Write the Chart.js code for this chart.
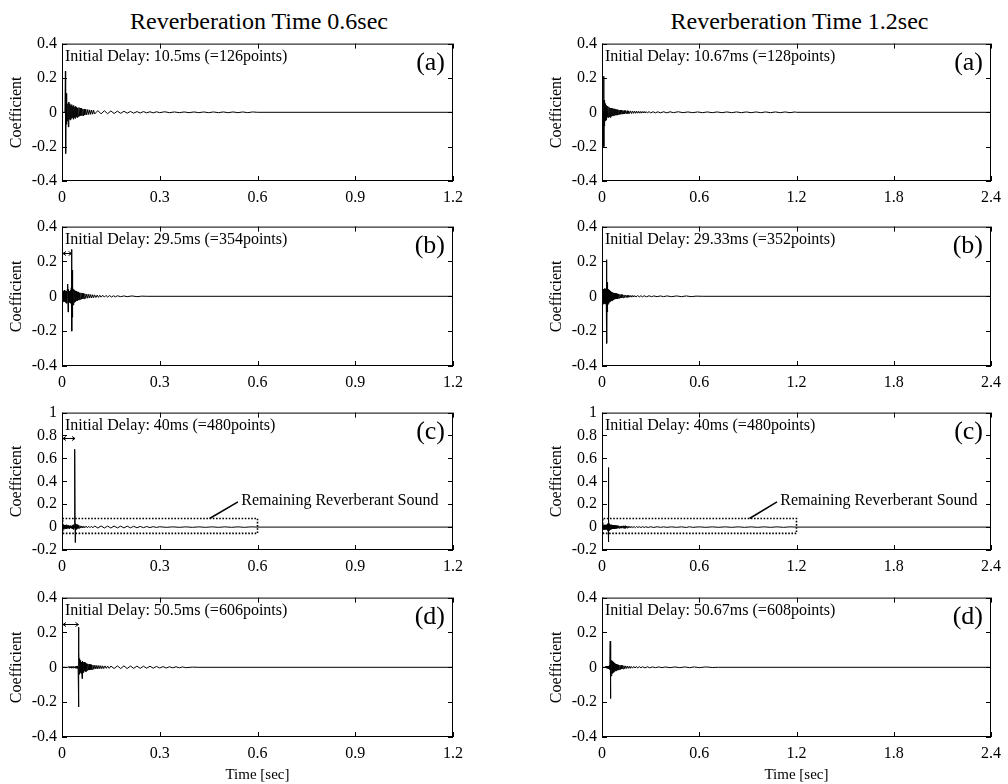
<!DOCTYPE html>
<html>
<head>
<meta charset="utf-8">
<script src="https://cdn.jsdelivr.net/npm/chart.js@4.4.0/dist/chart.umd.min.js"></script>
<style>
  body { margin: 0; background: #fff; }
  #page { position: relative; width: 1008px; height: 784px; font-family: 'Liberation Serif', 'Times New Roman', serif; }
  .col-title { position: absolute; top: 9px; font-size: 24px; line-height: 24px; text-align: center; color: #000; }
  canvas { position: absolute; }
</style>
</head>
<body>
<div id="page">
  <div class="col-title" style="left:62px;width:394px">Reverberation Time 0.6sec</div>
  <div class="col-title" style="left:602px;width:395px">Reverberation Time 1.2sec</div>
</div>
<script>
const FONT = "'Liberation Serif', 'Times New Roman', serif";

// axis ticks
const xTicks06 = [0, 0.3, 0.6, 0.9, 1.2];
const xLabels06 = ['0', '0.3', '0.6', '0.9', '1.2'];
const xTicks12 = [0, 0.6, 1.2, 1.8, 2.4];
const xLabels12 = ['0', '0.6', '1.2', '1.8', '2.4'];
const yTicksSmall = [-0.4, -0.2, 0, 0.2, 0.4];
const yLabelsSmall = ['-0.4', '-0.2', '0', '0.2', '0.4'];
const yTicksBig = [-0.2, 0, 0.2, 0.4, 0.6, 0.8, 1];
const yLabelsBig = ['-0.2', '0', '0.2', '0.4', '0.6', '0.8', '1'];

// panel texts
const panelLetters = ['(a)', '(b)', '(c)', '(d)'];
const delayText06 = [
    'Initial Delay: 10.5ms (=126points)',
    'Initial Delay: 29.5ms (=354points)',
    'Initial Delay: 40ms (=480points)',
    'Initial Delay: 50.5ms (=606points)'
];
const delayText12 = [
    'Initial Delay: 10.67ms (=128points)',
    'Initial Delay: 29.33ms (=352points)',
    'Initial Delay: 40ms (=480points)',
    'Initial Delay: 50.67ms (=608points)'
];
// delay arrows (left column only)
const arrowDelay06 = [null, 0.0295, 0.040, 0.0505];
const arrowLevel06 = [null, 0.25, 0.78, 0.25];

// "Remaining Reverberant Sound" box and pointer, panel (c)
const boxT06 = [0.002, 0.6, 0.6, 0.002, 0.002];
const boxT12 = [0.004, 1.2, 1.2, 0.004, 0.004];
const boxV = [-0.055, -0.055, 0.075, 0.075, -0.055];
const pointerT06 = [0.453, 0.54];
const pointerT12 = [0.91, 1.08];
const pointerV = [0.075, 0.22];
const remainText = 'Remaining Reverberant Sound';
const remainAt06 = [0.55, 0.23];
const remainAt12 = [1.10, 0.23];

// impulse responses [time sec, coefficient]
const rt06a = [
    [0, 0], [0.009, 0], [0.0105, 0.24], [0.0112, -0.24], [0.0125, 0.11], [0.0135, -0.07], [0.015, 0.06], [0.0165, -0.05],
    [0.018, 0.05], [0.0195, -0.085], [0.021, 0.06], [0.0225, -0.04], [0.024, 0.05], [0.0255, -0.045], [0.027, 0.04],
    [0.0285, -0.035], [0.030, 0.045], [0.0315, -0.03], [0.033, 0.035], [0.0345, -0.04], [0.036, 0.04], [0.0375, -0.03],
    [0.039, 0.03], [0.0405, -0.035], [0.042, 0.035], [0.0435, -0.025], [0.045, 0.03], [0.0465, -0.03], [0.048, 0.025],
    [0.050, -0.025], [0.052, 0.028], [0.054, -0.022], [0.056, 0.025], [0.058, -0.02], [0.060, 0.022], [0.062, -0.018],
    [0.064, 0.02], [0.066, -0.02], [0.068, 0.018], [0.070, -0.016], [0.073, 0.018], [0.076, -0.015], [0.079, 0.016],
    [0.082, -0.013], [0.085, 0.014], [0.088, -0.012], [0.091, 0.013], [0.094, -0.011], [0.097, 0.012], [0.100, -0.01],
    [0.110, 0.01], [0.120, -0.009], [0.130, 0.009], [0.140, -0.008], [0.150, 0.008], [0.160, -0.007], [0.170, 0.007],
    [0.180, -0.006], [0.190, 0.006], [0.200, -0.005], [0.210, 0.005], [0.220, -0.005], [0.230, 0.004], [0.240, -0.004],
    [0.250, 0.004], [0.260, -0.003], [0.270, 0.003], [0.280, -0.003], [0.290, 0.003], [0.300, -0.002], [0.315, 0.003],
    [0.330, -0.002], [0.345, 0.002], [0.360, -0.002], [0.375, 0.002], [0.390, -0.002], [0.405, 0.002], [0.420, -0.002],
    [0.435, 0.002], [0.450, -0.002], [0.465, 0.002], [0.480, -0.002], [0.495, 0.002], [0.510, -0.002], [0.525, 0.002],
    [0.540, -0.002], [0.555, 0.002], [0.570, -0.002], [0.585, 0.002], [0.600, 0], [1.2, 0]
];
const rt06b = [
    [0, 0], [0.001, 0.03], [0.0025, -0.035], [0.004, 0.03], [0.0055, -0.03], [0.007, 0.035], [0.0085, -0.03], [0.010, 0.03],
    [0.0115, -0.035], [0.013, 0.03], [0.0145, -0.04], [0.016, 0.04], [0.0175, 0.07], [0.0185, -0.09], [0.020, 0.04],
    [0.0215, -0.035], [0.023, 0.03], [0.0245, -0.03], [0.026, 0.035], [0.0275, -0.04], [0.0285, 0.05], [0.0295, 0.27],
    [0.0302, -0.20], [0.031, 0.15], [0.032, -0.12], [0.033, 0.06], [0.0345, -0.05], [0.036, 0.04], [0.0375, -0.035],
    [0.039, 0.035], [0.0405, -0.03], [0.042, 0.03], [0.0435, -0.025], [0.045, 0.03], [0.0465, -0.025], [0.048, 0.025],
    [0.0495, -0.02], [0.051, 0.025], [0.0525, -0.02], [0.054, 0.02], [0.056, -0.018], [0.058, 0.02], [0.060, -0.016],
    [0.062, 0.018], [0.064, -0.015], [0.066, 0.016], [0.068, -0.014], [0.070, 0.015], [0.073, -0.012], [0.076, 0.013],
    [0.079, -0.011], [0.082, 0.012], [0.085, -0.01], [0.088, 0.01], [0.091, -0.009], [0.094, 0.009], [0.097, -0.008],
    [0.100, 0.008], [0.104, -0.007], [0.108, 0.007], [0.112, -0.006], [0.116, 0.006], [0.120, -0.005], [0.125, 0.006],
    [0.130, -0.005], [0.135, 0.005], [0.140, -0.004], [0.146, 0.004], [0.152, -0.004], [0.158, 0.003], [0.164, -0.003],
    [0.170, 0.003], [0.180, -0.002], [0.190, 0.002], [0.200, -0.002], [0.215, 0.002], [0.230, -0.002], [0.245, 0.001],
    [0.26, 0], [1.2, 0]
];
const rt06c = [
    [0, 0], [0.001, 0.02], [0.0025, -0.015], [0.004, 0.02], [0.0055, -0.02], [0.007, 0.015], [0.0085, -0.01], [0.010, 0.018],
    [0.0115, -0.015], [0.013, 0.02], [0.0145, -0.012], [0.016, 0.012], [0.0175, -0.01], [0.019, 0.015], [0.0205, -0.01],
    [0.022, 0.01], [0.0235, -0.012], [0.025, 0.012], [0.0265, -0.008], [0.028, 0.01], [0.0295, -0.01], [0.031, 0.012],
    [0.0325, -0.015], [0.034, 0.02], [0.0355, -0.02], [0.037, 0.015], [0.0385, -0.01], [0.0395, 0.68], [0.0405, -0.135],
    [0.0415, 0.03], [0.043, -0.02], [0.0445, 0.025], [0.046, -0.015], [0.0475, 0.02], [0.049, -0.012], [0.051, 0.015],
    [0.053, -0.01], [0.055, 0.012], [0.058, -0.008], [0.061, 0.01], [0.064, -0.008], [0.067, 0.008], [0.070, -0.006],
    [0.074, 0.008], [0.078, -0.006], [0.082, 0.007], [0.086, -0.005], [0.090, 0.007], [0.095, -0.006], [0.100, 0.01],
    [0.110, -0.008], [0.120, 0.01], [0.130, -0.008], [0.140, 0.009], [0.150, -0.008], [0.160, 0.009], [0.170, -0.007],
    [0.180, 0.008], [0.190, -0.007], [0.200, 0.008], [0.210, -0.006], [0.220, 0.007], [0.230, -0.006], [0.240, 0.006],
    [0.250, -0.005], [0.260, 0.005], [0.270, -0.004], [0.280, 0.004], [0.290, -0.003], [0.300, 0.003], [0.320, -0.002],
    [0.340, 0.002], [0.360, -0.002], [0.380, 0.002], [0.400, -0.002], [0.420, 0.002], [0.440, -0.002], [0.460, 0.002],
    [0.480, -0.002], [0.500, 0.002], [0.520, -0.002], [0.540, 0.002], [0.560, -0.002], [0.580, 0.002], [0.600, 0], [1.2, 0]
];
const rt06d = [
    [0, 0], [0.018, 0], [0.020, 0.004], [0.022, -0.004], [0.024, 0.005], [0.026, -0.004], [0.028, 0.004], [0.030, -0.005],
    [0.032, 0.004], [0.034, -0.004], [0.036, 0.005], [0.038, -0.004], [0.040, 0.004], [0.042, -0.005], [0.044, 0.006],
    [0.046, -0.006], [0.048, 0.008], [0.0495, -0.01], [0.0505, 0.23], [0.0512, -0.228], [0.052, 0.09], [0.053, -0.04],
    [0.054, 0.05], [0.0555, -0.03], [0.057, 0.04], [0.0585, -0.035], [0.060, 0.03], [0.0615, -0.065], [0.063, 0.035],
    [0.0645, -0.03], [0.066, 0.03], [0.0675, -0.025], [0.069, 0.03], [0.0705, -0.02], [0.072, 0.025], [0.0735, -0.025],
    [0.075, 0.02], [0.077, -0.018], [0.079, 0.02], [0.081, -0.016], [0.083, 0.018], [0.085, -0.015], [0.087, 0.016],
    [0.089, -0.014], [0.091, 0.014], [0.093, -0.012], [0.095, 0.013], [0.098, -0.011], [0.101, 0.012], [0.104, -0.01],
    [0.107, 0.011], [0.110, -0.009], [0.113, 0.01], [0.116, -0.008], [0.119, 0.009], [0.122, -0.008], [0.125, 0.008],
    [0.128, -0.007], [0.132, 0.008], [0.136, -0.006], [0.140, 0.007], [0.145, -0.006], [0.150, 0.007], [0.160, -0.007],
    [0.170, 0.008], [0.180, -0.007], [0.190, 0.008], [0.200, -0.007], [0.210, 0.007], [0.220, -0.006], [0.230, 0.007],
    [0.240, -0.006], [0.250, 0.006], [0.260, -0.005], [0.270, 0.006], [0.280, -0.005], [0.290, 0.005], [0.300, -0.004],
    [0.310, 0.004], [0.320, -0.004], [0.330, 0.003], [0.340, -0.003], [0.350, 0.003], [0.360, -0.003], [0.370, 0.002],
    [0.380, -0.002], [0.400, 0.001], [0.420, 0], [1.2, 0]
];
const rt12a = [
    [0, 0], [0.009, 0], [0.0107, 0.21], [0.0115, -0.20], [0.013, 0.07], [0.0145, -0.08], [0.016, 0.05], [0.0175, -0.06],
    [0.019, 0.05], [0.021, -0.05], [0.023, 0.04], [0.025, -0.045], [0.027, 0.04], [0.029, -0.035], [0.031, 0.035],
    [0.034, -0.03], [0.037, 0.03], [0.040, -0.03], [0.043, 0.03], [0.046, -0.025], [0.049, 0.025], [0.052, -0.03],
    [0.055, 0.025], [0.058, -0.022], [0.061, 0.025], [0.064, -0.02], [0.067, 0.022], [0.070, -0.02], [0.073, 0.02],
    [0.076, -0.018], [0.079, 0.02], [0.082, -0.016], [0.085, 0.018], [0.088, -0.016], [0.091, 0.016], [0.094, -0.015],
    [0.097, 0.015], [0.100, -0.013], [0.104, 0.014], [0.108, -0.012], [0.112, 0.013], [0.116, -0.011], [0.120, 0.012],
    [0.124, -0.01], [0.128, 0.011], [0.132, -0.01], [0.136, 0.01], [0.140, -0.009], [0.145, 0.01], [0.150, -0.008],
    [0.155, 0.009], [0.160, -0.008], [0.165, 0.008], [0.170, -0.007], [0.176, 0.008], [0.182, -0.007], [0.188, 0.007],
    [0.194, -0.006], [0.200, 0.007], [0.206, -0.006], [0.212, 0.006], [0.218, -0.005], [0.224, 0.006], [0.230, -0.005],
    [0.236, 0.005], [0.242, -0.005], [0.248, 0.005], [0.254, -0.004], [0.260, 0.005], [0.266, -0.004], [0.272, 0.004],
    [0.280, -0.004], [0.290, 0.004], [0.300, -0.003], [0.315, 0.003], [0.330, -0.003], [0.345, 0.003], [0.360, -0.003],
    [0.380, 0.003], [0.400, -0.003], [0.420, 0.003], [0.440, -0.002], [0.470, 0.003], [0.500, -0.002], [0.530, 0.002],
    [0.560, -0.002], [0.590, 0.002], [0.620, -0.002], [0.650, 0.002], [0.680, -0.002], [0.710, 0.002], [0.740, -0.002],
    [0.770, 0.002], [0.800, -0.002], [0.830, 0.002], [0.860, -0.002], [0.890, 0.002], [0.920, -0.002], [0.950, 0.002],
    [0.980, -0.002], [1.010, 0.002], [1.040, -0.002], [1.070, 0.002], [1.100, -0.002], [1.130, 0.002], [1.160, -0.002],
    [1.190, 0.002], [1.200, 0], [2.4, 0]
];
const rt12b = [
    [0, 0], [0.0015, 0.04], [0.003, -0.04], [0.0045, 0.035], [0.006, -0.04], [0.0075, 0.04], [0.009, -0.035], [0.0105, 0.04],
    [0.012, -0.045], [0.0135, 0.04], [0.015, -0.04], [0.0165, 0.045], [0.018, -0.04], [0.0195, 0.04], [0.021, -0.045],
    [0.0225, 0.04], [0.024, -0.04], [0.0255, 0.045], [0.027, -0.05], [0.0285, 0.05], [0.0293, 0.21], [0.030, -0.27],
    [0.031, 0.08], [0.032, -0.09], [0.0335, 0.05], [0.035, -0.05], [0.0365, 0.04], [0.038, -0.045], [0.040, 0.04],
    [0.042, -0.035], [0.044, 0.035], [0.046, -0.035], [0.048, 0.03], [0.050, -0.03], [0.053, 0.03], [0.056, -0.025],
    [0.059, 0.025], [0.062, -0.025], [0.065, 0.022], [0.068, -0.02], [0.071, 0.02], [0.074, -0.02], [0.077, 0.018],
    [0.080, -0.016], [0.083, 0.017], [0.086, -0.015], [0.089, 0.015], [0.092, -0.014], [0.095, 0.014], [0.098, -0.013],
    [0.102, 0.012], [0.106, -0.011], [0.110, 0.011], [0.114, -0.01], [0.118, 0.01], [0.122, -0.009], [0.126, 0.009],
    [0.130, -0.008], [0.135, 0.008], [0.140, -0.007], [0.145, 0.007], [0.150, -0.007], [0.155, 0.006], [0.160, -0.006],
    [0.166, 0.006], [0.172, -0.005], [0.178, 0.005], [0.184, -0.005], [0.190, 0.005], [0.196, -0.004], [0.202, 0.004],
    [0.210, -0.004], [0.220, 0.004], [0.230, -0.003], [0.240, 0.003], [0.250, -0.003], [0.260, 0.003], [0.275, -0.003],
    [0.290, 0.003], [0.305, -0.002], [0.320, 0.002], [0.340, -0.002], [0.360, 0.002], [0.380, -0.002], [0.400, 0.002],
    [0.430, -0.002], [0.460, 0.002], [0.490, -0.002], [0.520, 0.002], [0.550, -0.002], [0.580, 0.001], [0.620, 0], [2.4, 0]
];
const rt12c = [
    [0, 0], [0.0015, 0.02], [0.003, -0.02], [0.0045, 0.015], [0.006, -0.02], [0.0075, 0.02], [0.009, -0.015], [0.0105, 0.02],
    [0.012, -0.02], [0.0135, 0.015], [0.015, -0.015], [0.0165, 0.02], [0.018, -0.02], [0.0195, 0.015], [0.021, -0.015],
    [0.0225, 0.02], [0.024, -0.02], [0.0255, 0.015], [0.027, -0.015], [0.0285, 0.02], [0.030, -0.02], [0.0315, 0.02],
    [0.033, -0.03], [0.0345, 0.03], [0.036, -0.02], [0.0375, 0.02], [0.039, -0.02], [0.040, 0.52], [0.041, -0.13],
    [0.042, 0.04], [0.0435, -0.03], [0.045, 0.03], [0.0465, -0.025], [0.048, 0.025], [0.050, -0.02], [0.052, 0.02],
    [0.054, -0.02], [0.057, 0.02], [0.060, -0.018], [0.063, 0.018], [0.066, -0.016], [0.069, 0.016], [0.072, -0.015],
    [0.075, 0.015], [0.078, -0.013], [0.081, 0.014], [0.084, -0.012], [0.087, 0.013], [0.090, -0.011], [0.094, 0.012],
    [0.098, -0.01], [0.102, 0.011], [0.106, -0.01], [0.110, 0.01], [0.114, -0.009], [0.118, 0.01], [0.122, -0.009],
    [0.126, 0.009], [0.130, -0.008], [0.134, 0.012], [0.138, -0.012], [0.142, 0.011], [0.146, -0.01], [0.150, 0.009],
    [0.155, -0.008], [0.160, 0.008], [0.166, -0.007], [0.172, 0.007], [0.178, -0.006], [0.184, 0.006], [0.190, -0.005],
    [0.198, 0.005], [0.206, -0.005], [0.214, 0.005], [0.222, -0.004], [0.230, 0.004], [0.240, -0.004], [0.250, 0.004],
    [0.260, -0.003], [0.270, 0.003], [0.285, -0.003], [0.300, 0.003], [0.320, -0.003], [0.340, 0.003], [0.360, -0.002],
    [0.380, 0.002], [0.400, -0.002], [0.430, 0.002], [0.460, -0.002], [0.490, 0.002], [0.520, -0.003], [0.540, 0.003],
    [0.560, -0.002], [0.600, 0.002], [0.640, -0.002], [0.680, 0.002], [0.720, -0.002], [0.760, 0.002], [0.800, -0.002],
    [0.840, 0.002], [0.880, -0.002], [0.920, 0.002], [0.960, -0.002], [1.000, 0.002], [1.040, -0.002], [1.080, 0.002],
    [1.120, -0.002], [1.160, 0.002], [1.200, 0], [2.4, 0]
];
const rt12d = [
    [0, 0], [0.018, 0], [0.021, 0.004], [0.024, -0.004], [0.027, 0.005], [0.030, -0.005], [0.033, 0.006], [0.036, -0.006],
    [0.039, 0.007], [0.042, -0.008], [0.045, 0.01], [0.048, -0.012], [0.0507, 0.15], [0.0515, -0.18], [0.0525, 0.07],
    [0.054, -0.06], [0.0555, 0.05], [0.057, -0.05], [0.0585, 0.04], [0.060, -0.045], [0.0615, 0.04], [0.063, -0.035],
    [0.065, 0.035], [0.067, -0.03], [0.069, 0.03], [0.071, -0.03], [0.073, 0.025], [0.075, -0.025], [0.078, 0.025],
    [0.081, -0.02], [0.084, 0.02], [0.087, -0.02], [0.090, 0.018], [0.093, -0.016], [0.096, 0.016], [0.099, -0.015],
    [0.102, 0.014], [0.106, -0.013], [0.110, 0.013], [0.114, -0.012], [0.118, 0.011], [0.122, -0.01], [0.126, 0.01],
    [0.130, -0.009], [0.135, 0.009], [0.140, -0.008], [0.145, 0.008], [0.150, -0.007], [0.156, 0.007], [0.162, -0.006],
    [0.168, 0.006], [0.174, -0.006], [0.180, 0.005], [0.188, -0.005], [0.196, 0.005], [0.204, -0.004], [0.212, 0.004],
    [0.220, -0.004], [0.230, 0.004], [0.240, -0.003], [0.250, 0.003], [0.265, -0.003], [0.280, 0.003], [0.295, -0.003],
    [0.310, 0.002], [0.330, -0.002], [0.350, 0.002], [0.370, -0.002], [0.390, 0.002], [0.420, -0.002], [0.450, 0.002],
    [0.480, -0.002], [0.510, 0.002], [0.540, -0.002], [0.570, 0.002], [0.600, -0.002], [0.640, 0.002], [0.680, -0.001],
    [0.720, 0], [2.4, 0]
];

// page layout of the plot boxes
const rowBoxes = [
    { top: 43, h: 138, hx: 30 },
    { top: 226, h: 140, hx: 30 },
    { top: 412, h: 138, hx: 30 },
    { top: 597, h: 140, hx: 47 }
];
const colBoxes = [
    { left: 62, w: 394, padR: 14 },
    { left: 602, w: 395, padR: 11 }
];
const YAXIS_W = 62;
const PAD_TOP = 14;

// frame, inward ticks and panel texts
const panelDeco = {
    id: 'panelDeco',
    afterDatasetsDraw(chart, args, o) {
        const { ctx, chartArea: a, scales: { x, y } } = chart;
        ctx.save();
        ctx.strokeStyle = '#000';
        ctx.lineWidth = 1;
        ctx.strokeRect(a.left + 0.5, a.top + 0.5, a.right - a.left - 1, a.bottom - a.top - 1);

        ctx.beginPath();
        x.ticks.forEach(t => {
            const px = Math.round(x.getPixelForValue(t.value)) + 0.5;
            ctx.moveTo(px, a.top); ctx.lineTo(px, a.top + 5);
            ctx.moveTo(px, a.bottom); ctx.lineTo(px, a.bottom - 5);
        });
        y.ticks.forEach(t => {
            const py = Math.round(y.getPixelForValue(t.value)) + 0.5;
            ctx.moveTo(a.left, py); ctx.lineTo(a.left + 5, py);
            ctx.moveTo(a.right, py); ctx.lineTo(a.right - 5, py);
        });
        ctx.stroke();

        // initial delay arrow
        if (o.arrowDelay != null) {
            const x0 = x.getPixelForValue(0) + 1;
            const x1 = x.getPixelForValue(o.arrowDelay);
            const yy = Math.round(y.getPixelForValue(o.arrowLevel)) + 0.5;
            ctx.beginPath();
            ctx.moveTo(x0, yy); ctx.lineTo(x1, yy);
            ctx.moveTo(x0 + 3, yy - 2); ctx.lineTo(x0, yy); ctx.lineTo(x0 + 3, yy + 2);
            ctx.moveTo(x1 - 3, yy - 2); ctx.lineTo(x1, yy); ctx.lineTo(x1 - 3, yy + 2);
            ctx.stroke();
        }

        ctx.fillStyle = '#000';
        ctx.textBaseline = 'middle';
        ctx.textAlign = 'left';
        ctx.font = '16px ' + FONT;
        ctx.fillText(o.delayText, a.left + 3, a.top + 13);
        if (o.remainAt) {
            ctx.fillText(remainText, x.getPixelForValue(o.remainAt[0]), y.getPixelForValue(o.remainAt[1]));
        }
        ctx.textAlign = 'right';
        ctx.font = '26px ' + FONT;
        ctx.fillText(o.letter, a.right - 8, a.top + 20);
        ctx.restore();
    }
};

function makePanel(col, row, wave, opts) {
    const c = colBoxes[col];
    const r = rowBoxes[row];
    const canvas = document.createElement('canvas');
    canvas.width = YAXIS_W + c.w + c.padR;
    canvas.height = PAD_TOP + r.h + r.hx;
    canvas.style.left = (c.left - YAXIS_W) + 'px';
    canvas.style.top = (r.top - PAD_TOP) + 'px';
    document.getElementById('page').appendChild(canvas);

    const datasets = [{
        data: wave.map(p => ({ x: p[0], y: p[1] })),
        borderColor: '#000',
        borderWidth: 1,
        pointRadius: 0,
        tension: 0,
        fill: false
    }];
    if (opts.boxT) {
        datasets.push({
            data: opts.boxT.map((t, i) => ({ x: t, y: boxV[i] })),
            borderColor: '#000',
            borderWidth: 1.6,
            borderDash: [1.6, 1.6],
            pointRadius: 0,
            tension: 0,
            fill: false
        });
        datasets.push({
            data: opts.pointerT.map((t, i) => ({ x: t, y: pointerV[i] })),
            borderColor: '#000',
            borderWidth: 1.5,
            pointRadius: 0,
            tension: 0,
            fill: false
        });
    }

    const tickFont = { family: FONT, size: 16 };
    new Chart(canvas, {
        type: 'line',
        data: { datasets: datasets },
        options: {
            responsive: false,
            animation: false,
            events: [],
            layout: { padding: { left: 0, right: c.padR, top: PAD_TOP, bottom: 0 } },
            plugins: {
                legend: { display: false },
                tooltip: { enabled: false },
                panelDeco: {
                    delayText: opts.delayText,
                    letter: opts.letter,
                    arrowDelay: opts.arrowDelay,
                    arrowLevel: opts.arrowLevel,
                    remainAt: opts.remainAt
                }
            },
            scales: {
                x: {
                    type: 'linear',
                    min: opts.xTicks[0],
                    max: opts.xTicks[opts.xTicks.length - 1],
                    afterBuildTicks: s => { s.ticks = opts.xTicks.map(v => ({ value: v })); },
                    afterFit: s => { s.height = r.hx; },
                    grid: { display: false, drawTicks: false },
                    border: { display: false },
                    ticks: {
                        color: '#000',
                        font: tickFont,
                        padding: 7,
                        maxRotation: 0,
                        autoSkip: false,
                        callback: (v, i) => opts.xLabels[i]
                    },
                    title: {
                        display: row === 3,
                        text: 'Time [sec]',
                        color: '#000',
                        font: { family: FONT, size: 15 },
                        padding: { top: 0, bottom: 0 }
                    }
                },
                y: {
                    type: 'linear',
                    min: opts.yTicks[0],
                    max: opts.yTicks[opts.yTicks.length - 1],
                    afterBuildTicks: s => { s.ticks = opts.yTicks.map(v => ({ value: v })); },
                    afterFit: s => { s.width = YAXIS_W; },
                    grid: { display: false, drawTicks: false },
                    border: { display: false },
                    ticks: {
                        color: '#000',
                        font: tickFont,
                        padding: 5,
                        autoSkip: false,
                        callback: (v, i) => opts.yLabels[i]
                    },
                    title: {
                        display: true,
                        text: 'Coefficient',
                        color: '#000',
                        font: { family: FONT, size: 16 },
                        padding: { top: 7, bottom: 0 }
                    }
                }
            }
        },
        plugins: [panelDeco]
    });
}

const waves06 = [rt06a, rt06b, rt06c, rt06d];
const waves12 = [rt12a, rt12b, rt12c, rt12d];

for (let i = 0; i < 4; i++) {
    const big = i === 2;
    makePanel(0, i, waves06[i], {
        xTicks: xTicks06, xLabels: xLabels06,
        yTicks: big ? yTicksBig : yTicksSmall,
        yLabels: big ? yLabelsBig : yLabelsSmall,
        delayText: delayText06[i],
        letter: panelLetters[i],
        arrowDelay: arrowDelay06[i],
        arrowLevel: arrowLevel06[i],
        boxT: big ? boxT06 : null,
        pointerT: pointerT06,
        remainAt: big ? remainAt06 : null
    });
    makePanel(1, i, waves12[i], {
        xTicks: xTicks12, xLabels: xLabels12,
        yTicks: big ? yTicksBig : yTicksSmall,
        yLabels: big ? yLabelsBig : yLabelsSmall,
        delayText: delayText12[i],
        letter: panelLetters[i],
        arrowDelay: null,
        arrowLevel: null,
        boxT: big ? boxT12 : null,
        pointerT: pointerT12,
        remainAt: big ? remainAt12 : null
    });
}
</script>
</body>
</html>
